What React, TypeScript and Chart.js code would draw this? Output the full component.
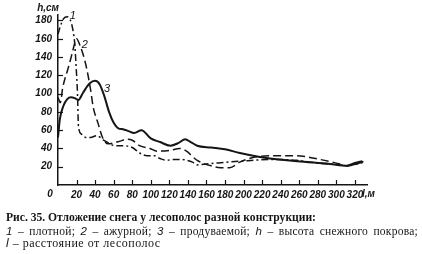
import React, { useEffect, useRef } from "react";
import { Chart, registerables } from "chart.js";

Chart.register(...registerables);

// Distance from the forest belt, m (x) and snow height, cm (y)
const curve1L = [0, 2, 6, 10, 13, 16, 18, 19.5, 21, 22, 25, 30, 35, 42, 48, 56, 61, 70, 80, 88, 96, 104, 110, 117, 124, 131, 139, 145, 150, 160, 171, 196, 232, 257, 279, 304, 311, 322, 330];
const curve1H = [165, 172, 182, 184, 181, 170, 155, 130, 100, 65, 56, 52, 52, 54, 50, 45, 43, 43, 41, 35, 32, 32, 29, 27, 28, 28, 27, 25, 22, 23, 24, 26, 28, 27, 24, 22, 21, 23, 25];

const curve2L = [0, 2.5, 5, 11, 15, 18, 20, 24, 27, 31, 35, 38, 43, 48, 54, 60, 67, 74, 80, 88, 99, 107, 121, 131, 140, 145, 150, 156, 165, 175, 185, 196, 210, 232, 257, 282, 304, 311, 322, 330];
const curve2H = [96, 90, 106, 128, 143, 155, 160, 152, 143, 127, 105, 85, 68, 52, 45, 46, 48, 50, 49, 43, 40, 37, 38, 40, 36, 31, 27, 24, 21, 19, 19, 25, 30, 32, 32, 28, 23, 21, 23, 26];

const curve3L = [0, 2, 6, 10, 14, 18, 22, 27, 34, 40, 45, 50, 55, 60, 65, 70, 76, 82, 90, 100, 110, 121, 130, 137, 143, 150, 165, 180, 196, 221, 258, 293, 311, 320, 328];
const curve3H = [52, 72, 87, 94, 96, 95, 93, 101, 111, 114, 110, 97, 80, 68, 62, 61, 59, 57, 60, 51, 47, 43, 46, 50, 47, 43, 41, 39, 35, 30, 26, 23, 21, 24, 26];

const seriesNames = ["1", "2", "3"];
// where each curve number sits (l, h)
const curveLabelL = [16, 29, 53];
const curveLabelH = [185, 153, 105];

const xTickMax = 320;
const xStep = 20;
const yTickMax = 180;
const yStep = 20;
const yLabel = "h,см";
const xLabel = "l,м";

const captionTitle = "Рис. 35. Отложение снега у лесополос разной конструкции:";
const captionLine2 = [
  { it: "1", t: " – плотной; " },
  { it: "2", t: " – ажурной; " },
  { it: "3", t: " – продуваемой; " },
  { it: "h", t: " – высота снежного покрова;" },
];
const captionLine3 = { it: "l", t: " – расстояние от лесополос" };

const INK = "#151515";
const TICK_FAMILY = "'Liberation Sans', 'DejaVu Sans', sans-serif";
const TICK_SIZE = 10;
const TICK_FONT = `italic bold ${TICK_SIZE}px ${TICK_FAMILY}`;

function toPoints(ls: number[], hs: number[]) {
  return ls.map((l, i) => ({ x: l, y: hs[i] }));
}

const overlayPlugin = {
  id: "overlay",
  afterDraw(chart: any) {
    const ctx = chart.ctx;
    const xs = chart.scales.x;
    const ys = chart.scales.y;
    const area = chart.chartArea;
    ctx.save();
    ctx.strokeStyle = INK;
    ctx.lineWidth = 1.2;
    // inward ticks
    for (let v = xStep; v <= xTickMax; v += xStep) {
      const px = Math.round(xs.getPixelForValue(v)) + 0.5;
      ctx.beginPath();
      ctx.moveTo(px, area.bottom);
      ctx.lineTo(px, area.bottom - 5);
      ctx.stroke();
    }
    for (let v = yStep; v <= yTickMax; v += yStep) {
      const py = Math.round(ys.getPixelForValue(v)) + 0.5;
      ctx.beginPath();
      ctx.moveTo(area.left, py);
      ctx.lineTo(area.left + 5, py);
      ctx.stroke();
    }
    ctx.fillStyle = INK;
    ctx.font = TICK_FONT;
    ctx.textBaseline = "middle";
    // corner zero
    ctx.textAlign = "center";
    ctx.fillText("0", area.left - 8, area.bottom + 9);
    // axis names
    ctx.textAlign = "left";
    ctx.fillText(xLabel, xs.getPixelForValue(xTickMax) + 7, area.bottom + 9);
    ctx.textAlign = "right";
    ctx.fillText(yLabel, area.left + 1, area.top - 7);
    // curve numbers
    ctx.font = "italic 11px 'Liberation Sans', sans-serif";
    ctx.textAlign = "center";
    for (let i = 0; i < seriesNames.length; i++) {
      ctx.fillText(seriesNames[i], xs.getPixelForValue(curveLabelL[i]), ys.getPixelForValue(curveLabelH[i]));
    }
    ctx.restore();
  },
};

export default function App() {
  const ref = useRef<HTMLCanvasElement | null>(null);

  useEffect(() => {
    document.body.style.margin = "0";
    const canvas = ref.current;
    if (!canvas) return;
    const common = {
      borderColor: INK,
      backgroundColor: INK,
      pointRadius: 0,
      fill: false,
      cubicInterpolationMode: "monotone" as const,
    };
    const tickFont = { family: TICK_FAMILY, size: TICK_SIZE, style: "italic" as const, weight: "bold" as const };
    const chart = new Chart(canvas, {
      type: "line",
      data: {
        datasets: [
          { ...common, label: seriesNames[0], data: toPoints(curve1L, curve1H), borderWidth: 1.5, borderDash: [7, 3, 2, 3] },
          { ...common, label: seriesNames[1], data: toPoints(curve2L, curve2H), borderWidth: 1.5, borderDash: [8, 4] },
          { ...common, label: seriesNames[2], data: toPoints(curve3L, curve3H), borderWidth: 2 },
        ],
      },
      options: {
        animation: false,
        responsive: false,
        maintainAspectRatio: false,
        events: [],
        layout: { padding: { top: 15, right: 55, left: 0, bottom: 0 } },
        plugins: { legend: { display: false }, tooltip: { enabled: false } },
        scales: {
          x: {
            type: "linear",
            min: 0,
            max: 333,
            grid: { display: false, drawTicks: false },
            border: { display: true, color: INK, width: 1.5 },
            ticks: {
              stepSize: xStep,
              includeBounds: false,
              autoSkip: false,
              maxRotation: 0,
              padding: 4,
              color: INK,
              font: tickFont,
              callback: (v: any) => (Number(v) === 0 ? "" : String(v)),
            },
            afterFit: (s: any) => {
              s.height = 69;
            },
          },
          y: {
            type: "linear",
            min: 0,
            max: 186,
            grid: { display: false, drawTicks: false },
            border: { display: true, color: INK, width: 1.5 },
            ticks: {
              stepSize: yStep,
              includeBounds: false,
              autoSkip: false,
              padding: 6,
              color: INK,
              font: tickFont,
              callback: (v: any) => (Number(v) === 0 ? "" : String(v)),
            },
            afterFit: (s: any) => {
              s.width = 58;
            },
          },
        },
      },
      plugins: [overlayPlugin],
    });
    return () => chart.destroy();
  }, []);

  const serif = "'Liberation Serif', 'DejaVu Serif', serif";
  return (
    <div style={{ position: "absolute", left: 0, top: 0, width: 422, height: 254, background: "#fff", overflow: "hidden" }}>
      <canvas ref={ref} width={422} height={254} style={{ position: "absolute", left: 0, top: 0, width: 422, height: 254 }} />
      <div style={{ position: "absolute", left: 6, top: 211, fontFamily: serif, fontWeight: "bold", fontSize: 11.6, lineHeight: "13px", color: INK, whiteSpace: "nowrap" }}>
        {captionTitle}
      </div>
      <div style={{ position: "absolute", left: 6, top: 225, width: 412, fontFamily: serif, fontSize: 11.5, letterSpacing: "0.25px", lineHeight: "13px", color: INK, textAlign: "justify", textAlignLast: "justify" as any, whiteSpace: "normal", height: 13, overflow: "hidden" }}>
        {captionLine2.map((p, i) => (
          <React.Fragment key={i}>
            <i style={{ fontFamily: "'Liberation Sans', sans-serif" }}>{p.it}</i>
            {p.t}
          </React.Fragment>
        ))}
      </div>
      <div style={{ position: "absolute", left: 6, top: 237, fontFamily: serif, fontSize: 12, letterSpacing: "0.5px", lineHeight: "13px", color: INK, whiteSpace: "nowrap" }}>
        <i style={{ fontFamily: "'Liberation Sans', sans-serif" }}>{captionLine3.it}</i>
        {captionLine3.t}
      </div>
    </div>
  );
}
